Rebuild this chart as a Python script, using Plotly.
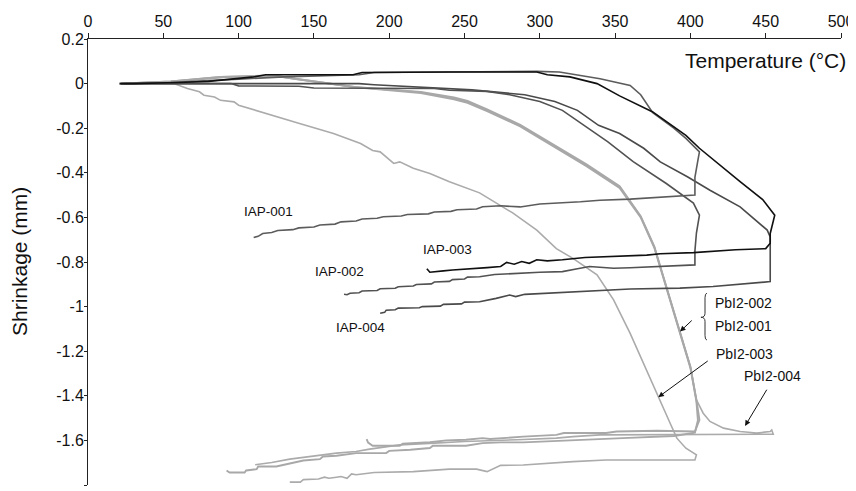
import plotly.graph_objects as go

# ---------------- data (Temperature °C, Shrinkage mm) ----------------
iap001_T = [24, 55, 100, 130, 180, 190, 240, 298, 313, 324, 340, 360, 367, 375, 389, 397, 406, 405, 404, 403, 403,
            384, 360, 340, 327, 300, 287, 274, 262, 258, 245, 241, 230, 226, 212, 208, 196, 192, 182, 178, 168, 164,
            154, 150, 140, 136, 126, 122, 116, 113, 110]
iap001_mm = [0, 0.005, 0.02, 0.03, 0.04, 0.05, 0.052, 0.055, 0.052, 0.04, 0.022, -0.008, -0.05, -0.13, -0.2, -0.246,
             -0.306, -0.343, -0.388, -0.42, -0.50,
             -0.508, -0.518, -0.523, -0.53, -0.54, -0.553, -0.548, -0.552, -0.562, -0.566, -0.573, -0.576, -0.584,
             -0.587, -0.594, -0.597, -0.604, -0.607, -0.616, -0.62, -0.63, -0.634, -0.643, -0.647, -0.655, -0.659,
             -0.668, -0.672, -0.685, -0.69]

iap002_T = [22, 60, 95, 100, 140, 150, 230, 240, 265, 280, 300, 315, 330, 345, 362, 384, 402, 406, 404, 403, 403,
            384, 360, 349, 340, 333, 325, 315, 300, 282, 270, 260, 252, 250, 242, 240, 230, 228, 218, 216, 206, 204,
            194, 192, 182, 180, 174, 172, 170]
iap002_mm = [0, 0, 0, -0.01, -0.012, -0.02, -0.022, -0.03, -0.035, -0.05, -0.08, -0.12, -0.19, -0.26, -0.35, -0.448,
             -0.536, -0.59, -0.67, -0.75, -0.813,
             -0.82, -0.826, -0.828, -0.822, -0.82, -0.83, -0.843, -0.846, -0.85, -0.856, -0.866, -0.868, -0.876,
             -0.879, -0.887, -0.89, -0.898, -0.901, -0.908, -0.911, -0.918, -0.92, -0.928, -0.93, -0.938, -0.94,
             -0.947, -0.945]

iap003_T = [21, 30, 60, 80, 110, 118, 176, 182, 240, 298, 305, 320, 338, 353, 375, 397, 406, 420, 433, 448, 456,
            453, 453, 450,
            430, 402, 380, 371, 349, 330, 315, 305, 298, 293, 288, 283, 278, 274, 265, 260, 256, 250, 242, 236, 229,
            227, 225]
iap003_mm = [0, 0, 0.005, 0.01, 0.03, 0.04, 0.04, 0.05, 0.052, 0.052, 0.04, 0.03, 0, -0.055, -0.127, -0.232, -0.29,
             -0.37, -0.44, -0.52, -0.59, -0.672, -0.716, -0.74,
             -0.745, -0.758, -0.763, -0.769, -0.776, -0.78, -0.79, -0.795, -0.79, -0.806, -0.798, -0.81, -0.802,
             -0.82, -0.825, -0.827, -0.83, -0.832, -0.836, -0.84, -0.844, -0.846, -0.83]

iap004_T = [22, 60, 180, 190, 220, 240, 255, 290, 310, 325, 339, 353, 369, 380, 398, 413, 433, 451, 453, 453, 453,
            415, 393, 360, 327, 305, 290, 284, 280, 271, 260, 250, 248, 236, 234, 222, 220, 206, 204, 198, 197, 194]
iap004_mm = [0, 0, 0, -0.005, -0.015, -0.02, -0.028, -0.05, -0.08, -0.12, -0.187, -0.224, -0.29, -0.351, -0.418,
             -0.478, -0.553, -0.657, -0.687, -0.74, -0.888,
             -0.91, -0.917, -0.921, -0.933, -0.94, -0.945, -0.955, -0.948, -0.963, -0.978, -0.98, -0.988, -0.99,
             -0.998, -1.0, -1.005, -1.007, -1.014, -1.016, -1.026, -1.03]

pb001_T = [21, 55, 88, 122, 137, 177, 221, 243, 252, 265, 287, 309, 331, 353, 367, 376, 382, 387, 393, 400, 404, 406,
           403,
           378, 351, 344, 316, 311, 289, 267, 262, 251, 238, 227, 209, 207, 189, 186, 185]
pb001_mm = [0, 0.01, 0.03, 0.037, 0.022, -0.015, -0.037, -0.062, -0.078, -0.115, -0.185, -0.272, -0.362, -0.46, -0.595,
            -0.73, -0.866, -0.985, -1.12, -1.27, -1.418, -1.508, -1.56,
            -1.557, -1.56, -1.567, -1.567, -1.575, -1.583, -1.594, -1.59, -1.597, -1.6, -1.608, -1.615, -1.624,
            -1.624, -1.61, -1.594]

pb002_T = [21, 55, 90, 125, 140, 180, 221, 243, 252, 265, 287, 309, 331, 353, 367, 376, 382, 387, 393, 400, 404, 405,
           403,
           389, 355, 333, 311, 289, 274, 262, 251, 229, 227, 214, 200, 198, 178, 165, 156, 154, 143, 134, 125, 113,
           112, 105, 104, 94, 92]
pb002_mm = [0, 0.008, 0.028, 0.035, 0.02, -0.018, -0.042, -0.07, -0.086, -0.124, -0.192, -0.28, -0.37, -0.468, -0.6,
            -0.735, -0.87, -0.99, -1.125, -1.275, -1.425, -1.51, -1.565,
            -1.58, -1.59, -1.597, -1.605, -1.609, -1.609, -1.612, -1.624, -1.624, -1.634, -1.642, -1.647, -1.657,
            -1.657, -1.669, -1.672, -1.684, -1.69, -1.702, -1.717, -1.717, -1.729, -1.735, -1.744, -1.744, -1.735]

pb003_T = [21, 57, 66, 74, 77, 84, 88, 97, 100, 119, 141, 163, 181, 189, 194, 203, 207, 216, 227, 240, 260, 282, 298,
           311, 322, 338, 349, 360, 369, 376, 381, 387, 391, 397, 404, 403,
           366, 344, 322, 289, 274, 265, 258, 240, 216, 190, 178, 175, 172, 168, 165, 160, 157, 153, 143, 141, 134]
pb003_mm = [0, 0, -0.022, -0.037, -0.052, -0.06, -0.075, -0.082, -0.097, -0.134, -0.18, -0.224, -0.269, -0.3, -0.306,
            -0.358, -0.351, -0.38, -0.403, -0.44, -0.49, -0.58, -0.657, -0.74, -0.784, -0.858, -0.97, -1.12, -1.254,
            -1.359, -1.433, -1.53, -1.59, -1.635, -1.665, -1.688,
            -1.688, -1.688, -1.695, -1.71, -1.712, -1.74, -1.729, -1.729, -1.74, -1.744, -1.754, -1.75, -1.77,
            -1.762, -1.765, -1.77, -1.765, -1.773, -1.776, -1.787, -1.787]

pb004_T = [21, 55, 88, 122, 137, 177, 221, 243, 252, 265, 287, 309, 331, 353, 367, 376, 382, 387, 393, 400, 404,
           408.5, 413, 422, 433, 444, 453, 454, 455,
           420, 403, 371, 340, 322, 311, 285, 267, 250, 230, 215, 207, 187, 178, 165, 156, 143, 134, 122, 112, 111]
pb004_mm = [0, 0.01, 0.03, 0.036, 0.021, -0.016, -0.039, -0.066, -0.082, -0.12, -0.188, -0.276, -0.366, -0.463,
            -0.597, -0.732, -0.866, -0.985, -1.12, -1.27, -1.418, -1.478, -1.515, -1.545, -1.56, -1.567, -1.56,
            -1.553, -1.572,
            -1.573, -1.574, -1.575, -1.575, -1.583, -1.59, -1.597, -1.6, -1.605, -1.612, -1.618, -1.62, -1.639,
            -1.65, -1.657, -1.665, -1.675, -1.684, -1.699, -1.709, -1.709]

x_ticks = [0, 50, 100, 150, 200, 250, 300, 350, 400, 450, 500]
y_ticks = [0.2, 0, -0.2, -0.4, -0.6, -0.8, -1.0, -1.2, -1.4, -1.6, -1.8]
y_tick_text = ["0.2", "0", "-0.2", "-0.4", "-0.6", "-0.8", "-1", "-1.2", "-1.4", "-1.6", "-1.8"]

# labels: (text, T, mm)
iap_labels = [("IAP-001", 120, -0.575), ("IAP-002", 167, -0.844), ("IAP-003", 239, -0.746), ("IAP-004", 181, -1.093)]
pb_labels = [("PbI2-002", 415.2, -0.985), ("PbI2-001", 415.2, -1.087), ("PbI2-003", 415.7, -1.212),
             ("PbI2-004", 434, -1.31)]
# arrows: (tip T, tip mm, tail T, tail mm)
pb_arrows = [(393.1, -1.112, 401.9, -1.056), (378.7, -1.406, 412.5, -1.239), (436.3, -1.535, 451.3, -1.366)]

FONT = "Liberation Sans, Arial, sans-serif"

fig = go.Figure()

series = [
    (pb003_T, pb003_mm, "#ababab", 1.6),
    (pb004_T, pb004_mm, "#ababab", 1.6),
    (pb002_T, pb002_mm, "#a8a8a8", 1.9),
    (pb001_T, pb001_mm, "#a8a8a8", 1.9),
    (iap004_T, iap004_mm, "#4a4a4a", 1.6),
    (iap002_T, iap002_mm, "#525252", 1.6),
    (iap001_T, iap001_mm, "#5c5c5c", 1.6),
    (iap003_T, iap003_mm, "#101010", 1.6),
]
for xs, ys, col, w in series:
    fig.add_trace(go.Scatter(x=xs, y=ys, mode="lines", line=dict(color=col, width=w),
                             showlegend=False, hoverinfo="skip"))

for txt, tx, ty in iap_labels:
    fig.add_annotation(x=tx, y=ty, text=txt, showarrow=False, xanchor="center", yanchor="middle",
                       font=dict(family=FONT, size=13.5, color="#111"))
for txt, tx, ty in pb_labels:
    fig.add_annotation(x=tx, y=ty, text=txt, showarrow=False, xanchor="left", yanchor="middle",
                       font=dict(family=FONT, size=14, color="#111"))
for hx, hy, tx, ty in pb_arrows:
    fig.add_annotation(x=hx, y=hy, ax=tx, ay=ty, axref="x", ayref="y", text="", showarrow=True,
                       arrowhead=2, arrowsize=1.1, arrowwidth=1, arrowcolor="#111", standoff=0)

# brace grouping PbI2-002 / PbI2-001
fig.add_shape(type="path",
              path="M 411.0,-0.94 Q 409.7,-0.94 409.7,-0.96 L 409.7,-1.03 Q 409.7,-1.048 407.0,-1.048 "
                   "Q 409.7,-1.048 409.7,-1.066 L 409.7,-1.13 Q 409.7,-1.15 411.0,-1.15",
              xref="x", yref="y", line=dict(color="#333", width=1))

fig.add_annotation(xref="paper", yref="y", x=1.0093, y=0.104, text="Temperature (°C)", showarrow=False,
                   xanchor="right", yanchor="middle", font=dict(family=FONT, size=21, color="#111"))
fig.add_annotation(xref="paper", yref="paper", x=-0.0916, y=0.5, text="Shrinkage (mm)", showarrow=False,
                   textangle=-90, xanchor="center", yanchor="middle", font=dict(family=FONT, size=21, color="#111"))

# page body has an 8px margin: size the figure so the plot area lands where the reference has it
fig.update_layout(
    width=848, height=483, autosize=False,
    margin=dict(l=80, r=15, t=31, b=6, autoexpand=False),
    paper_bgcolor="white", plot_bgcolor="white",
    font=dict(family=FONT, size=16, color="#111"),
    xaxis=dict(range=[0, 500], side="top", tickvals=x_ticks, ticks="outside", ticklen=5, tickwidth=1,
               tickcolor="#222", showline=True, linecolor="#222", linewidth=1, showgrid=False, zeroline=False,
               automargin=False, tickfont=dict(family=FONT, size=16, color="#111")),
    yaxis=dict(range=[-1.8, 0.2], tickvals=y_ticks, ticktext=y_tick_text, ticks="outside", ticklen=3,
               tickwidth=1, tickcolor="#222", showline=True, linecolor="#222", linewidth=1, showgrid=False,
               zeroline=False, automargin=False, ticklabelstandoff=-3,
               tickfont=dict(family=FONT, size=16, color="#111")),
)

fig.write_html("out.html")
